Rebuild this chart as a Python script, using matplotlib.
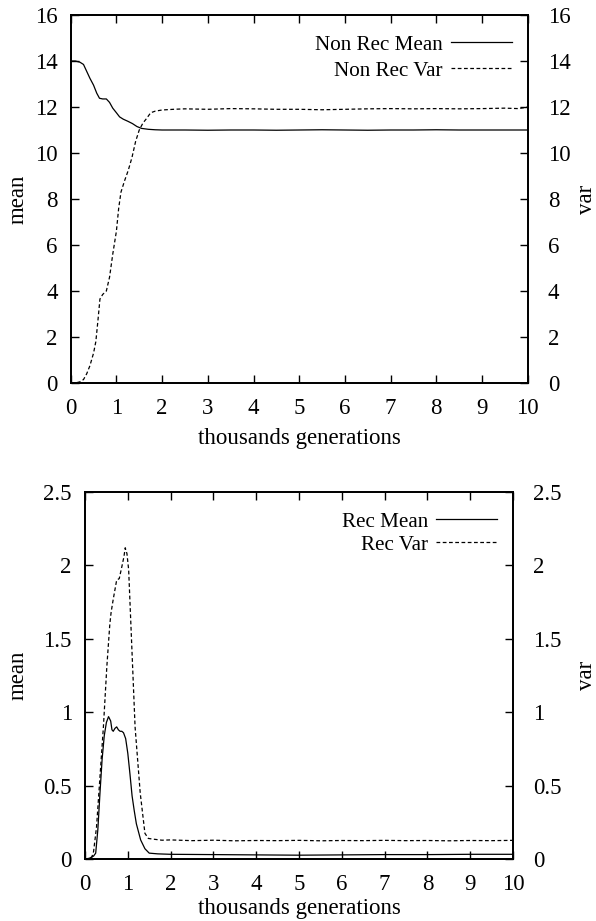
import matplotlib
matplotlib.use("Agg")
import matplotlib.pyplot as plt
from matplotlib.lines import Line2D

plt.rcParams['font.family'] = ['Liberation Serif', 'DejaVu Serif']

# ---------------- data (thousands of generations) ----------------
nr_mean_x = [0, 0.1, 0.2, 0.28, 0.35, 0.42, 0.5, 0.57, 0.63, 0.7, 0.78, 0.85, 0.92, 1.0,
             1.07, 1.15, 1.25, 1.35, 1.45, 1.55, 1.7, 1.85, 2.0, 2.5, 3, 3.5, 4, 4.5, 5,
             5.5, 6, 6.5, 7, 7.5, 8, 8.5, 9, 9.5, 10]
nr_mean_y = [14.0, 14.0, 13.95, 13.85, 13.55, 13.25, 12.95, 12.6, 12.38, 12.35, 12.35, 12.2,
             11.95, 11.75, 11.57, 11.47, 11.38, 11.28, 11.15, 11.07, 11.03, 11.01, 11.0,
             11.0, 10.99, 11.0, 11.0, 10.99, 11.0, 11.01, 11.0, 10.99, 11.0, 11.0, 11.01,
             11.0, 11.0, 11.0, 11.0]

nr_var_x = [0, 0.1, 0.2, 0.28, 0.35, 0.42, 0.5, 0.55, 0.6, 0.64, 0.7, 0.78, 0.85, 0.92, 1.0,
            1.05, 1.1, 1.18, 1.26, 1.34, 1.42, 1.5, 1.58, 1.66, 1.75, 1.85, 2.0, 2.25, 2.5,
            3, 3.5, 4, 4.5, 5, 5.5, 6, 6.5, 7, 7.5, 8, 8.5, 9, 9.5, 9.8, 10]
nr_var_y = [0, 0.0, 0.05, 0.15, 0.4, 0.75, 1.3, 1.8, 2.8, 3.65, 3.85, 4.0, 4.6, 5.6, 6.6,
            7.6, 8.3, 8.8, 9.25, 9.8, 10.5, 11.0, 11.3, 11.5, 11.75, 11.82, 11.87, 11.9,
            11.92, 11.9, 11.93, 11.92, 11.9, 11.9, 11.88, 11.9, 11.92, 11.93, 11.92, 11.93,
            11.92, 11.93, 11.95, 11.93, 12.0]

r_mean_x = [0, 0.1, 0.2, 0.25, 0.3, 0.35, 0.4, 0.45, 0.5, 0.55, 0.6, 0.63, 0.66, 0.7, 0.74,
            0.78, 0.82, 0.86, 0.9, 0.95, 1.0, 1.05, 1.1, 1.15, 1.2, 1.3, 1.4, 1.5, 1.7, 2,
            3, 4, 5, 6, 7, 8, 9, 10]
r_mean_y = [0, 0.005, 0.02, 0.04, 0.2, 0.45, 0.68, 0.84, 0.93, 0.97, 0.94, 0.88, 0.87, 0.89,
            0.9, 0.88, 0.87, 0.87, 0.86, 0.82, 0.72, 0.58, 0.43, 0.33, 0.24, 0.13, 0.07,
            0.04, 0.035, 0.032, 0.03, 0.028, 0.026, 0.028, 0.03, 0.03, 0.032, 0.032]

r_var_x = [0, 0.1, 0.15, 0.2, 0.27, 0.35, 0.43, 0.51, 0.58, 0.61, 0.66, 0.74, 0.8, 0.86,
           0.91, 0.94, 0.98, 1.02, 1.09, 1.17, 1.29, 1.4, 1.48, 1.6, 1.8, 2, 2.5, 3, 3.5,
           4, 4.5, 5, 5.5, 6, 6.5, 7, 7.5, 8, 8.5, 9, 9.5, 10]
r_var_y = [0, 0.002, 0.005, 0.05, 0.22, 0.56, 0.9, 1.31, 1.6, 1.68, 1.77, 1.9, 1.91, 1.99,
           2.06, 2.12, 2.08, 1.97, 1.47, 0.9, 0.45, 0.175, 0.14, 0.135, 0.128, 0.13, 0.125,
           0.128, 0.124, 0.126, 0.125, 0.127, 0.124, 0.126, 0.125, 0.127, 0.125, 0.126,
           0.124, 0.126, 0.125, 0.127]

x_ticks = list(range(0, 11))
top_yticks = [0, 2, 4, 6, 8, 10, 12, 14, 16]
bot_yticks = [0, 0.5, 1, 1.5, 2, 2.5]
bot_yticklabels = ['0', '0.5', '1', '1.5', '2', '2.5']

top_labels = ['Non Rec Mean', 'Non Rec Var']
bot_labels = ['Rec Mean', 'Rec Var']
xlabel = 'thousands generations'

# ---------------- figure ----------------
W, H = 596, 921
fig = plt.figure(figsize=(W / 100, H / 100), dpi=100)
FS = 16.5
TFS = 16.5
LFS = 15.2
DASH = (0, (3, 2))


def px_rect(l, r, t, b):
    return [l / W, 1 - b / H, (r - l) / W, (b - t) / H]


def make_panel(rect, xdata, ydata, ylim, yticks, yticklabels, labels, leg_anchor,
               leg_sp, ylab_y, xlab_y, lpad, rpad):
    ax = fig.add_axes(rect)
    ax2 = ax.twinx()
    ax.plot(xdata[0], ydata[0], color='black', lw=0.9)
    ax2.plot(xdata[1], ydata[1], color='black', lw=0.9, linestyle=DASH)
    for a in (ax, ax2):
        a.set_xlim(0, 10)
        a.set_ylim(*ylim)
        a.set_yticks(yticks)
        a.set_yticklabels(yticklabels)
        for s in a.spines.values():
            s.set_linewidth(1.3)
    ax.set_xticks(x_ticks)
    ax.set_xticklabels([str(v) for v in x_ticks])
    ax.tick_params(axis='x', direction='in', top=True, bottom=True, length=6,
                   width=1, labelsize=TFS, pad=11)
    ax.tick_params(axis='y', direction='in', left=True, right=False, length=6,
                   width=1, labelsize=TFS, pad=lpad)
    ax2.tick_params(axis='y', direction='in', right=True, left=False, length=6,
                    width=1, labelsize=TFS, pad=rpad)
    for t in ax2.get_yticklabels():
        t.set_horizontalalignment('left')
    handles = [Line2D([], [], color='black', lw=0.9),
               Line2D([], [], color='black', lw=0.9, linestyle=DASH)]
    fig.legend(handles, labels, loc='upper right',
               bbox_to_anchor=(leg_anchor[0] / W, 1 - leg_anchor[1] / H),
               bbox_transform=fig.transFigure, frameon=False, markerfirst=False,
               fontsize=LFS, handlelength=2.9, handletextpad=0.38,
               labelspacing=leg_sp, borderpad=0, borderaxespad=0)
    fig.text(18 / W, 1 - ylab_y / H, 'mean', rotation=90, ha='center', va='center',
             fontsize=FS)
    fig.text(587 / W, 1 - ylab_y / H, 'var', rotation=90, ha='center', va='center',
             fontsize=FS)
    cx = (rect[0] + rect[2] / 2)
    fig.text(cx, 1 - xlab_y / H, xlabel, ha='center', va='center', fontsize=FS)
    return ax


make_panel(px_rect(70.7, 527.7, 15, 383), (nr_mean_x, nr_var_x), (nr_mean_y, nr_var_y),
           (0, 16), top_yticks, [str(v) for v in top_yticks], top_labels,
           (512, 35), 0.3, 199, 438, 9.5, 14.5)
make_panel(px_rect(85, 513, 492, 859), (r_mean_x, r_var_x), (r_mean_y, r_var_y),
           (0, 2.5), bot_yticks, bot_yticklabels, bot_labels,
           (497, 512), 0.15, 675.5, 908, 9.5, 14.5)

fig.savefig('out.png', dpi=100)
